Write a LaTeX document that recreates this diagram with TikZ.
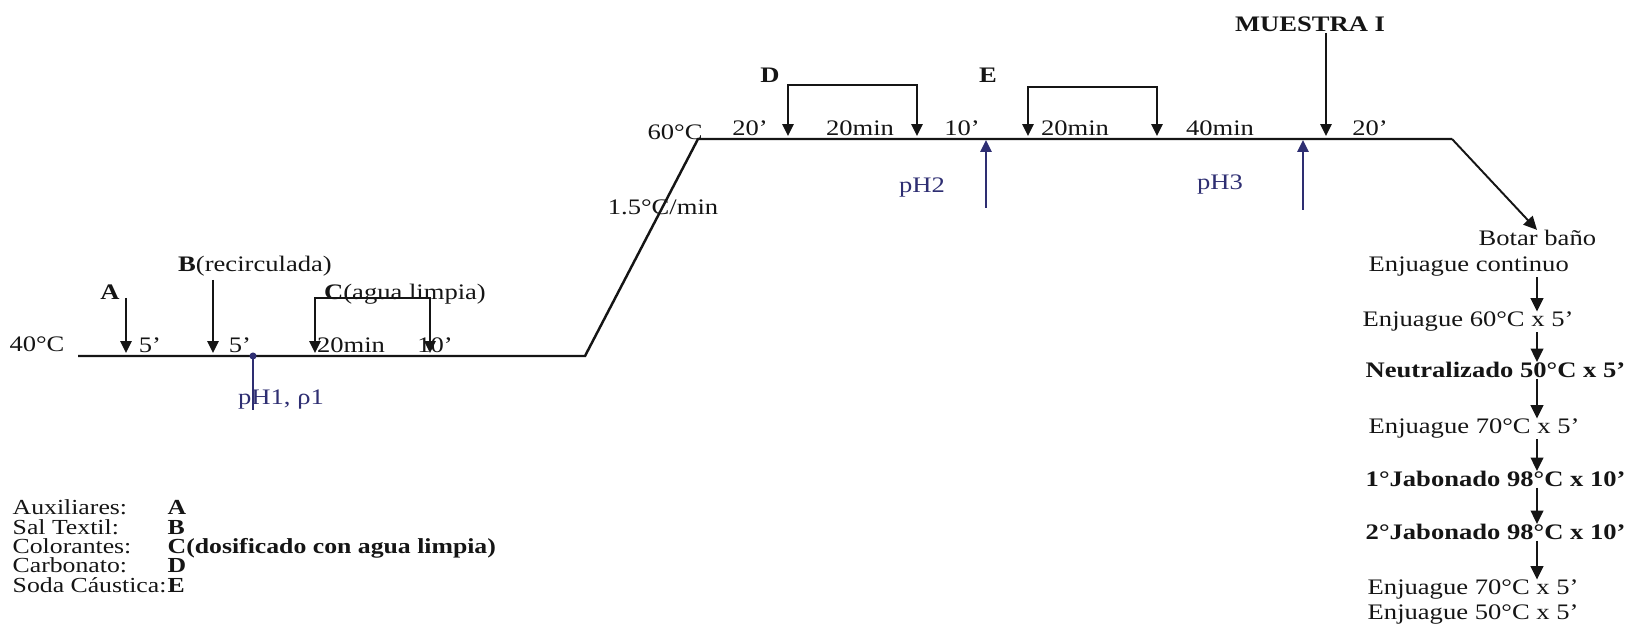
\documentclass[tikz,border=0pt]{standalone}
\usepackage{fontspec}
\setmainfont{Liberation Serif}[FakeStretch=1.2]
\usepackage{tikz}
\usetikzlibrary{arrows.meta,positioning}
\definecolor{ink}{HTML}{151515}
\definecolor{phblue}{HTML}{2E2E72}
\tikzset{
  curve/.style={line width=0.7pt, draw=ink},
  dose/.style={-{Triangle[length=3.4pt,width=3.2pt]}, line width=0.55pt, draw=ink},
  bracket/.style={{Triangle[length=3.4pt,width=3.2pt]}-{Triangle[length=3.4pt,width=3.2pt]},
    line width=0.55pt, draw=ink},
  phline/.style={-{Triangle[length=3.4pt,width=3.2pt]}, line width=0.55pt, draw=phblue},
  flow/.style={-{Triangle[length=3.8pt,width=3.6pt]}, line width=0.55pt, draw=ink},
  lbl/.style={font=\fontsize{6.3}{7}\selectfont, text=ink, inner sep=0pt, anchor=base},
  phlbl/.style={lbl, text=phblue},
  stepitem/.style={lbl, anchor=base west},
  legitem/.style={lbl, anchor=base west, font=\fontsize{6.1}{7}\selectfont},
  phdot/.style={circle, fill=phblue, inner sep=0pt, minimum size=2pt},
}

\begin{document}
\begin{tikzpicture}[x=0.01cm, y=-0.01cm]
  \useasboundingbox (0,0) rectangle (1648,628);

  % -- temperature profile
  \coordinate (p40a) at (78,356);
  \coordinate (p40b) at (585,356);
  \coordinate (p60a) at (698,139);
  \coordinate (p60b) at (1452,139);
  \draw[curve] (p40a) -- (p40b) -- (p60a) -- (p60b);
  \node[lbl] (t40) at (37,352) {40°C};
  \node[lbl] (t60) at (675,140) {60°C};
  \node[lbl] (rate) at (663,215) {1.5°C/min};

  % -- stage at 40 C
  \node[lbl] (lblA) at (110,300) {\textbf{A}};
  \coordinate (a0) at (126,298);
  \coordinate (a1) at (126,353);
  \draw[dose] (a0) -- (a1);
  \node[lbl] (lblB) at (255,272) {\textbf{B}(recirculada)};
  \coordinate (b0) at (213,280);
  \coordinate (b1) at (213,353);
  \draw[dose] (b0) -- (b1);
  \node[lbl] (lblC) at (405,300) {\textbf{C}(agua limpia)};
  \coordinate (c1) at (315,353);
  \coordinate (c2) at (430,353);
  \draw[bracket] (c1) -- ++(0,-55) -| (c2);
  \node[lbl] (s1) at (150,353) {5’};
  \node[lbl] (s2) at (240,353) {5’};
  \node[lbl] (s3) at (351,353) {20min};
  \node[lbl] (s4) at (435,353) {10’};
  \node[phdot] (ph1) at (253,356) {};
  \coordinate (ph1e) at (253,410);
  \draw[line width=0.55pt, draw=phblue] (ph1.center) -- (ph1e);
  \node[phlbl] (ph1l) at (281,405) {pH1, ρ1};

  % -- stage at 60 C
  \node[lbl] (lblD) at (770,83) {\textbf{D}};
  \coordinate (d1) at (788,136);
  \coordinate (d2) at (917,136);
  \draw[bracket] (d1) -- ++(0,-51) -| (d2);
  \node[lbl] (lblE) at (988,83) {\textbf{E}};
  \coordinate (e1) at (1028,136);
  \coordinate (e2) at (1157,136);
  \draw[bracket] (e1) -- ++(0,-49) -| (e2);
  \node[lbl] (u1) at (750,136) {20’};
  \node[lbl] (u2) at (860,136) {20min};
  \node[lbl] (u3) at (962,136) {10’};
  \node[lbl] (u4) at (1075,136) {20min};
  \node[lbl] (u5) at (1220,136) {40min};
  \node[lbl] (u6) at (1370,136) {20’};
  \coordinate (ph2a) at (986,208);
  \coordinate (ph2b) at (986,140);
  \draw[phline] (ph2a) -- (ph2b);
  \node[phlbl] (ph2l) at (922,193) {pH2};
  \coordinate (ph3a) at (1303,210);
  \coordinate (ph3b) at (1303,140);
  \draw[phline] (ph3a) -- (ph3b);
  \node[phlbl] (ph3l) at (1220,190) {pH3};
  \node[lbl] (muestra) at (1310,32) {\textbf{MUESTRA I}};
  \coordinate (m1) at (1326,136);
  \draw[dose] (muestra.south -| m1) -- (m1);

  % -- after-treatment
  \coordinate (colx) at (1537,0);
  \node[stepitem] (botar) at (1478,246) {Botar baño};
  \draw[flow] (p60b) -- (botar.north -| colx);
  \node[stepitem] (cont) at (1368,272) {Enjuague continuo};
  \node[stepitem] (enj60) at (1362,327) {Enjuague 60°C x 5’};
  \node[stepitem] (neut) at (1365,378) {\textbf{Neutralizado 50°C x 5’}};
  \node[stepitem] (enj70) at (1368,434) {Enjuague 70°C x 5’};
  \node[stepitem] (jab1) at (1365,487) {\textbf{1°Jabonado 98°C x 10’}};
  \node[stepitem] (jab2) at (1365,540) {\textbf{2°Jabonado 98°C x 10’}};
  \node[stepitem] (enj70b) at (1367,595) {Enjuague 70°C x 5’};
  \node[stepitem] (enj50) at (1367,620) {Enjuague 50°C x 5’};
  \draw[flow] (cont.south -| colx) -- (enj60.north -| colx);
  \draw[flow] (enj60.south -| colx) -- (neut.north -| colx);
  \draw[flow] (neut.south -| colx) -- (enj70.north -| colx);
  \draw[flow] (enj70.south -| colx) -- (jab1.north -| colx);
  \draw[flow] (jab1.south -| colx) -- (jab2.north -| colx);
  \draw[flow] (jab2.south -| colx) -- (enj70b.north -| colx);

  % -- legend
  \node[legitem] (k1) at (12,515) {Auxiliares:};
  \node[legitem] (k2) at (12,535) {Sal Textil:};
  \node[legitem] (k3) at (12,554) {Colorantes:};
  \node[legitem] (k4) at (12,573) {Carbonato:};
  \node[legitem] (k5) at (12,593) {Soda Cáustica:};
  \node[legitem] (v1) at (167,515) {\textbf{A}};
  \node[legitem] (v2) at (167,535) {\textbf{B}};
  \node[legitem] (v3) at (167,554) {\textbf{C(dosificado con agua limpia)}};
  \node[legitem] (v4) at (167,573) {\textbf{D}};
  \node[legitem] (v5) at (167,593) {\textbf{E}};
\end{tikzpicture}
\end{document}
